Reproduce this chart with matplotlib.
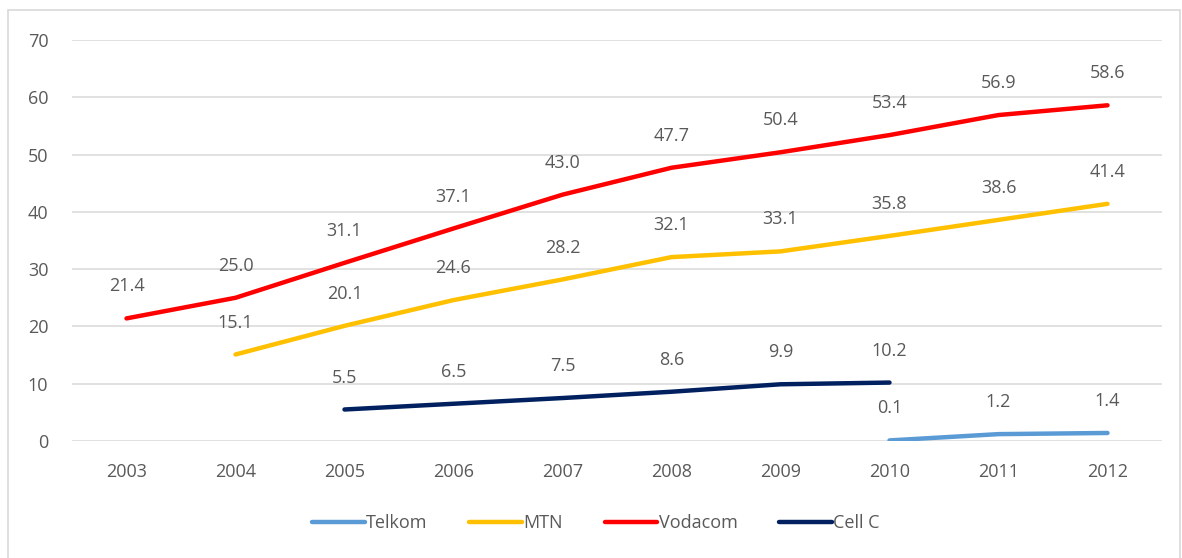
import matplotlib
matplotlib.use("Agg")
import matplotlib.pyplot as plt
from matplotlib.patches import Rectangle

years = ["2003", "2004", "2005", "2006", "2007", "2008", "2009", "2010", "2011", "2012"]
telkom = [None, None, None, None, None, None, None, 0.1, 1.2, 1.4]
mtn = [None, 15.1, 20.1, 24.6, 28.2, 32.1, 33.1, 35.8, 38.6, 41.4]
vodacom = [21.4, 25.0, 31.1, 37.1, 43.0, 47.7, 50.4, 53.4, 56.9, 58.6]
cellc = [None, None, 5.5, 6.5, 7.5, 8.6, 9.9, 10.2, None, None]

series = [("Telkom", telkom, "#5B9BD5"), ("MTN", mtn, "#FFC000"),
          ("Vodacom", vodacom, "#FF0000"), ("Cell C", cellc, "#002060")]

plt.rcParams['font.family'] = ['Open Sans', 'DejaVu Sans']
txt = "#595959"
fs = 13

fig = plt.figure(figsize=(11.82, 5.58), dpi=100)
fig.patches.append(Rectangle((8/1182, -0.01), (1180-8)/1182, 1-10/558+0.01,
                             transform=fig.transFigure, fill=False,
                             edgecolor="#D9D9D9", linewidth=1.2))
ax = fig.add_axes([72/1182, 1-441/558, (1162-72)/1182, (441-40)/558])

x = list(range(len(years)))
for name, vals, col in series:
    xs = [i for i, v in zip(x, vals) if v is not None]
    ys = [v for v in vals if v is not None]
    ax.plot(xs, ys, color=col, lw=3.2, solid_capstyle="round", label=name)
    for xi, yi in zip(xs, ys):
        ax.annotate(f"{yi:.1f}", (xi, yi), xytext=(0, 23), textcoords="offset points",
                    ha="center", va="center", fontsize=fs, color=txt)

ax.set_xlim(-0.5, len(years) - 0.5)
ax.set_ylim(0, 70)
ax.set_yticks(range(0, 71, 10))
ax.set_xticks(x)
ax.set_xticklabels(years)
ax.grid(axis="y", color="#D9D9D9", lw=1.1)
ax.set_axisbelow(True)
for s in ax.spines.values():
    s.set_visible(False)
ax.tick_params(length=0, labelsize=fs, colors=txt)
ax.tick_params(axis="y", pad=17)
ax.tick_params(axis="x", pad=16)

leg = fig.legend(loc="center", bbox_to_anchor=(596/1182, 1-523/558), ncol=4, frameon=False,
                 fontsize=fs, handlelength=2.9, columnspacing=2.3, handletextpad=0.1)
for t in leg.get_texts():
    t.set_color(txt)

fig.savefig("out.png", dpi=100)
